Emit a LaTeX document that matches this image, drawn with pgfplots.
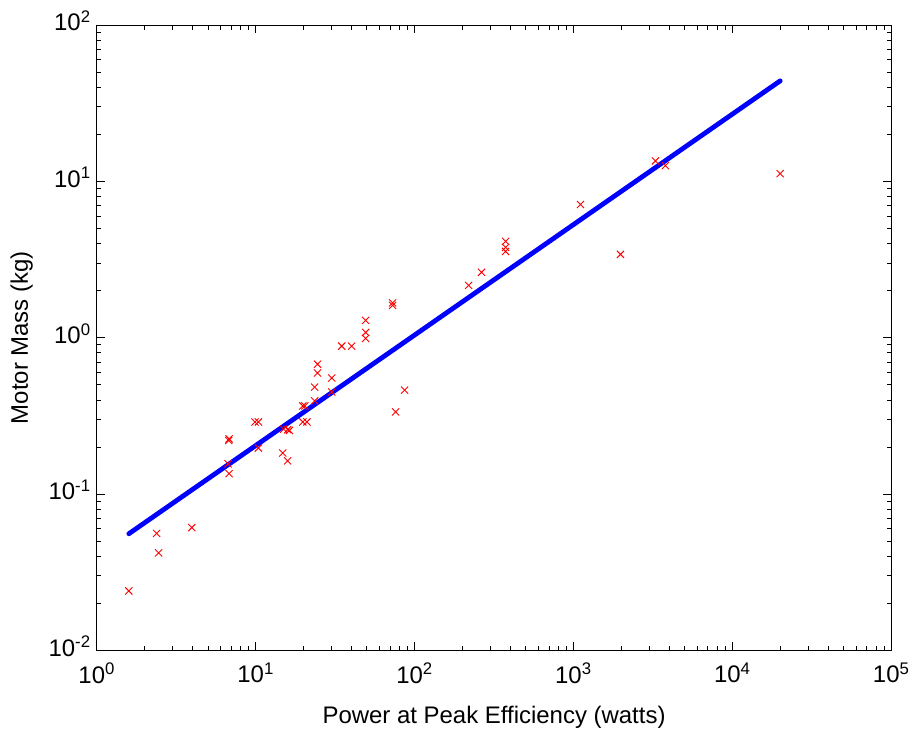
\documentclass[border=0pt]{standalone}
\usepackage{pgfplots}
\pgfplotsset{compat=1.18}
\usepackage{fontspec}
\setmainfont{Liberation Sans}
\begin{document}
\begin{tikzpicture}
\begin{axis}[
  scale only axis,
  width=597pt, height=470pt,
  xmode=log, ymode=log,
  xmin=1, xmax=1e5, ymin=1e-2, ymax=1e2,
  xtick={1,10,100,1000,10000,100000},
  xticklabels={10\textsuperscript{0},10\textsuperscript{1},10\textsuperscript{2},10\textsuperscript{3},10\textsuperscript{4},10\textsuperscript{5}},
  ytick={0.01,0.1,1,10,100},
  yticklabels={10\textsuperscript{-2},10\textsuperscript{-1},10\textsuperscript{0},10\textsuperscript{1},10\textsuperscript{2}},
  tick align=inside,
  major tick length=6pt, minor tick length=3.5pt,
  every tick/.style={black, line width=0.5pt},
  axis line style={black, line width=0.6pt},
  tick label style={font=\fontsize{18}{21}\selectfont},
  yticklabel style={xshift=-1pt, yshift=3pt},
  xticklabel style={yshift=-6pt},
  label style={font=\fontsize{18}{21}\selectfont},
  xlabel={Power at Peak Efficiency (watts)},
  ylabel={Motor Mass (kg)},
  xlabel style={yshift=-10pt},
  ylabel style={yshift=5pt},
]
\addplot[blue, line width=3.6pt, line cap=round] coordinates {(1.59,0.0557) (20000,43.9)};
\addplot[only marks, mark=x, mark size=3.8pt, red, mark options={line width=0.7pt}] coordinates {
(1.59,0.024) (2.38,0.056) (2.45,0.042) (3.96,0.061)
(6.77,0.22) (6.8,0.225) (6.7,0.156) (6.8,0.135)
(9.9,0.289) (10.4,0.289) (10.4,0.197)
(14.8,0.183) (15.9,0.163)
(15.0,0.26) (15.9,0.258) (16.3,0.255)
(19.8,0.366) (20.4,0.366) (19.8,0.289) (21.0,0.289)
(23.5,0.394) (23.5,0.483) (24.5,0.594) (24.5,0.677)
(30.1,0.552) (30.1,0.449) (34.8,0.883) (40.2,0.883)
(49.2,1.29) (49.2,1.08) (49.2,0.99)
(72.7,1.61) (72.7,1.67) (86.5,0.462) (76,0.335)
(219,2.16) (264,2.62) (374,4.13) (374,3.78) (374,3.56)
(1107,7.1) (1976,3.41) (3280,13.5) (3790,12.6) (20000,11.2)
};
\end{axis}
\path[use as bounding box] ([xshift=-72.75pt,yshift=-55.5pt]current axis.south west) rectangle ([xshift=15.75pt,yshift=18.75pt]current axis.north east);
\end{tikzpicture}
\end{document}
